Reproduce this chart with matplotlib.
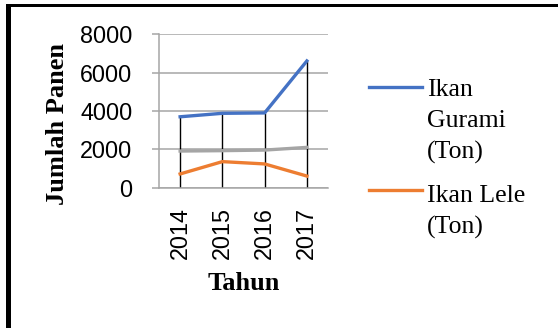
import matplotlib
matplotlib.use("Agg")
import matplotlib.pyplot as plt
from matplotlib.lines import Line2D
from matplotlib.patches import Rectangle

# Harvest data (tonnes) per year
years = ["2014", "2015", "2016", "2017"]
gurami = [3700, 3880, 3900, 6600]
lainnya = [1920, 1940, 1970, 2110]
lele = [730, 1370, 1250, 620]
y_ticks = [0, 2000, 4000, 6000, 8000]

plt.rcParams["font.family"] = ["Liberation Sans", "DejaVu Sans"]
serif = ["Liberation Serif", "DejaVu Serif"]

W, H = 558, 328
fig = plt.figure(figsize=(W / 100, H / 100), dpi=100)


def fx(px):
    return px / W


def fy(py):
    return 1 - py / H


ax = fig.add_axes([fx(159), fy(188), fx(328) - fx(159), fy(34) - fy(188)])

x = list(range(len(years)))
grid_c = "#A6A6A6"

# drop lines from the highest series down to the axis
tops = [max(v) for v in zip(gurami, lainnya, lele)]
ax.vlines(x, 0, tops, color="black", lw=1.0, zorder=2)

ax.plot(x, lainnya, color="#A5A5A5", lw=2.4, zorder=3)
l_gur, = ax.plot(x, gurami, color="#4472C4", lw=2.4, zorder=4)
l_lele, = ax.plot(x, lele, color="#ED7D31", lw=2.4, zorder=4)

ax.set_xlim(-0.5, len(years) - 0.5)
ax.set_ylim(0, 8000)
ax.set_yticks(y_ticks)
ax.set_xticks(x, years, rotation=90)
ax.grid(axis="y", color=grid_c, lw=1.1)
ax.set_axisbelow(True)
for s in ["top", "right"]:
    ax.spines[s].set_visible(False)
for s in ["left", "bottom"]:
    ax.spines[s].set_color(grid_c)
    ax.spines[s].set_linewidth(1.1)
ax.tick_params(axis="y", length=5, color=grid_c, width=1.1, pad=14, labelsize=16.8)
ax.tick_params(axis="x", length=0, pad=14, labelsize=16.8)

ax.set_ylabel("Jumlah Panen", family=serif, fontweight="bold", fontsize=19, va="center")
ax.yaxis.set_label_coords(-0.598, 0.416)
ax.set_xlabel("Tahun", family=serif, fontweight="bold", fontsize=19, va="center")
ax.xaxis.set_label_coords(0.503, -0.617)

# legend (text anchored at the baseline of its last line)
entries = [(l_gur, "Ikan\nGurami\n(Ton)", 86.7, 158.5),
           (l_lele, "Ikan Lele\n(Ton)", 190, 233.5)]
for line, label, ly, by in entries:
    fig.add_artist(Line2D([fx(369), fx(422)], [fy(ly), fy(ly)],
                          color=line.get_color(), lw=2.4,
                          transform=fig.transFigure))
    fig.text(fx(427), fy(by), label, family=serif, fontsize=18.5,
             va="baseline", ha="left", linespacing=1.5)

# frame edges
fig.add_artist(Rectangle((fx(6), fy(7)), fx(558) - fx(6), fy(4) - fy(7),
                         transform=fig.transFigure, color="black", lw=0))
fig.add_artist(Rectangle((fx(6), 0), fx(11) - fx(6), fy(4),
                         transform=fig.transFigure, color="black", lw=0))

fig.savefig("out.png", dpi=100)
